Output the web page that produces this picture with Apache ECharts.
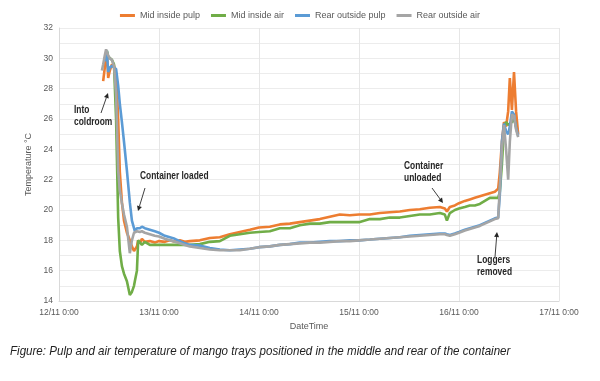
<!DOCTYPE html>
<html><head><meta charset="utf-8">
<script src="https://cdn.jsdelivr.net/npm/echarts@6/dist/echarts.min.js"></script>
<style>html,body{margin:0;padding:0;background:#fff}#c{width:600px;height:381px}</style>
</head><body><div id="c"></div>
<script>
// hours since 12/11 0:00
const hours = [10.3,10.6,11.0,11.3,11.5,11.8,12.2,12.7,13.2,13.7,14.2,14.6,15.1,15.6,16.3,17.0,17.5,18.0,18.2,18.7,19.0,19.4,19.9,20.6,21.8,23.0,24.0,25.4,26.6,27.8,29.0,30.2,31.4,33.8,36.2,38.6,41.0,43.4,45.8,48.0,50.6,53.0,55.4,57.8,60.2,62.6,65.0,67.4,69.8,72.0,74.6,77.0,79.4,81.8,84.2,86.6,89.0,91.4,92.6,93.1,93.8,95.0,96.0,97.4,98.6,99.8,101.0,102.2,103.4,104.6,105.4,105.8,106.3,106.8,107.3,107.8,108.2,108.7,109.2,109.7,110.2];
const midInsidePulp = [null,28.5,29.4,30.2,30.4,28.7,29.2,29.6,29.5,29.0,26.0,22.5,20.5,19.3,18.5,18.0,17.6,17.3,17.2,17.6,18.0,17.8,18.1,17.9,17.95,17.85,17.95,17.9,18.0,17.9,18.0,17.9,17.95,18.0,18.15,18.2,18.4,18.55,18.7,18.85,18.9,19.05,19.1,19.2,19.3,19.4,19.55,19.7,19.65,19.7,19.7,19.8,19.85,19.9,20.0,20.05,20.15,20.2,20.1,19.9,20.2,20.3,20.45,20.6,20.7,20.8,20.9,21.0,21.1,21.2,21.4,22.5,24.5,25.8,25.5,26.5,28.7,26.6,29.1,26.5,25.0];
const midInsideAir = [null,null,30.0,30.3,30.5,30.1,30.0,29.9,29.6,26.0,19.5,17.3,16.3,15.8,15.3,14.4,14.6,15.0,15.3,16.0,18.0,18.1,17.7,17.9,17.7,17.7,17.7,17.7,17.7,17.7,17.7,17.7,17.7,17.75,17.9,17.95,18.3,18.4,18.5,18.55,18.6,18.8,18.8,19.0,19.1,19.1,19.2,19.2,19.2,19.2,19.4,19.4,19.5,19.5,19.6,19.7,19.7,19.8,19.7,19.3,19.8,20.0,20.1,20.2,20.3,20.3,20.4,20.6,20.8,20.8,20.8,21.2,23.0,25.5,25.8,25.6,25.6,25.8,26.0,25.5,null];
const rearOutsidePulp = [null,null,29.8,30.3,30.5,29.1,29.4,29.5,29.4,29.3,28.2,27.0,25.8,24.5,22.6,20.5,19.3,18.8,18.6,18.8,18.9,18.8,18.9,18.8,18.7,18.6,18.5,18.3,18.2,18.1,17.95,17.8,17.7,17.65,17.5,17.4,17.35,17.4,17.45,17.55,17.6,17.7,17.75,17.85,17.85,17.9,17.95,17.95,18.0,18.0,18.05,18.1,18.15,18.2,18.3,18.35,18.4,18.45,18.45,18.4,18.35,18.45,18.55,18.7,18.8,18.9,19.0,19.15,19.3,19.45,19.5,21.0,24.5,25.7,25.2,25.0,25.5,26.5,26.3,25.4,24.9];
const rearOutsideAir = [29.2,29.6,30.2,30.6,30.4,30.2,30.0,29.9,29.5,27.6,22.6,21.3,20.45,19.7,18.9,17.15,18.0,18.5,18.6,18.6,18.65,18.55,18.6,18.5,18.4,18.3,18.25,18.1,18.0,17.9,17.8,17.7,17.6,17.5,17.4,17.35,17.35,17.35,17.45,17.55,17.6,17.7,17.75,17.8,17.85,17.85,17.9,17.95,17.95,18.0,18.05,18.1,18.15,18.2,18.25,18.3,18.35,18.4,18.4,18.35,18.3,18.4,18.5,18.65,18.75,18.85,18.95,19.1,19.25,19.4,19.45,21.5,24.0,25.6,24.0,22.0,24.5,26.3,26.2,25.3,24.8];
const seriesNames = ['Mid inside pulp','Mid inside air','Rear outside pulp','Rear outside air'];
const seriesColors = ['#ED7D31','#70AD47','#5B9BD5','#A5A5A5'];
const xTickLabels = ['12/11 0:00','13/11 0:00','14/11 0:00','15/11 0:00','16/11 0:00','17/11 0:00'];

const FF = "'Liberation Sans',Arial,sans-serif";
const allVals = [midInsidePulp, midInsideAir, rearOutsidePulp, rearOutsideAir];
const series = allVals.map((vals, k) => ({
  name: seriesNames[k], type: 'line', showSymbol: false, symbol: 'none',
  color: seriesColors[k],
  lineStyle: {width: 2.6, color: seriesColors[k]},
  data: hours.map((h, i) => [h, vals[i]]).filter(p => p[1] !== null),
  animation: false
}));

function arrow(x1, y1, x2, y2) {
  const dx = x2 - x1, dy = y2 - y1, L = Math.hypot(dx, dy);
  const ux = dx / L, uy = dy / L, hl = 5, hw = 2.5;
  const bx = x2 - ux * hl, by = y2 - uy * hl;
  return [
    {type: 'line', z: 100, shape: {x1: x1, y1: y1, x2: bx, y2: by}, style: {stroke: '#404040', lineWidth: 1}},
    {type: 'polygon', z: 100, shape: {points: [[x2, y2], [bx - uy * hw, by + ux * hw], [bx + uy * hw, by - ux * hw]]}, style: {fill: '#262626'}}
  ];
}
function label(x, y, txt) {
  return {type: 'text', z: 100, x: x, y: y, scaleX: 0.8,
    style: {text: txt, font: "bold 10.5px " + FF, fill: '#262626', lineHeight: 12, textVerticalAlign: 'top'}};
}

const chart = echarts.init(document.getElementById('c'), null, {renderer: 'canvas'});
chart.setOption({
  animation: false,
  backgroundColor: '#fff',
  textStyle: {fontFamily: FF},
  legend: {
    top: 6, left: 'center', itemWidth: 15, itemHeight: 3, icon: 'rect', itemGap: 11,
    textStyle: {fontSize: 9, color: '#595959', fontFamily: FF},
    data: seriesNames
  },
  grid: {left: 59, right: 41, top: 28, bottom: 80},
  xAxis: {
    type: 'value', min: 0, max: 120, interval: 24,
    name: 'DateTime', nameLocation: 'middle', nameGap: 15,
    nameTextStyle: {fontSize: 9, color: '#595959', fontFamily: FF},
    axisLine: {show: true, lineStyle: {color: '#d9d9d9'}},
    axisTick: {show: false},
    axisLabel: {fontSize: 8.5, color: '#595959', margin: 7, fontFamily: FF,
      formatter: v => xTickLabels[Math.round(v / 24)]},
    splitLine: {show: true, lineStyle: {color: '#e6e6e6'}}
  },
  yAxis: {
    type: 'value', min: 14, max: 32, interval: 1,
    name: 'Temperature °C', nameLocation: 'middle', nameGap: 15,
    nameTextStyle: {fontSize: 9, color: '#595959', fontFamily: FF},
    axisLine: {show: true, lineStyle: {color: '#d9d9d9'}},
    axisTick: {show: false},
    axisLabel: {fontSize: 8.5, color: '#595959', margin: 6, fontFamily: FF,
      formatter: v => (v % 2 === 0 ? String(v) : '')},
    splitLine: {show: true, lineStyle: {color: '#ececec'}}
  },
  series: series,
  graphic: [].concat(
    arrow(101, 113, 108, 93),
    arrow(145, 188, 138, 211),
    arrow(432, 188, 443, 203),
    arrow(495, 257, 497, 232),
    [label(74, 104, 'Into\ncoldroom'),
     label(140, 170, 'Container loaded'),
     label(404, 160, 'Container\nunloaded'),
     label(477, 254, 'Loggers\nremoved'),
     {type: 'text', z: 100, x: 10, y: 345, scaleX: 0.89,
      style: {text: 'Figure: Pulp and air temperature of mango trays positioned in the middle and rear of the container', font: 'italic 13px ' + FF, fill: '#222', textVerticalAlign: 'top'}}]
  )
});
</script></body></html>
